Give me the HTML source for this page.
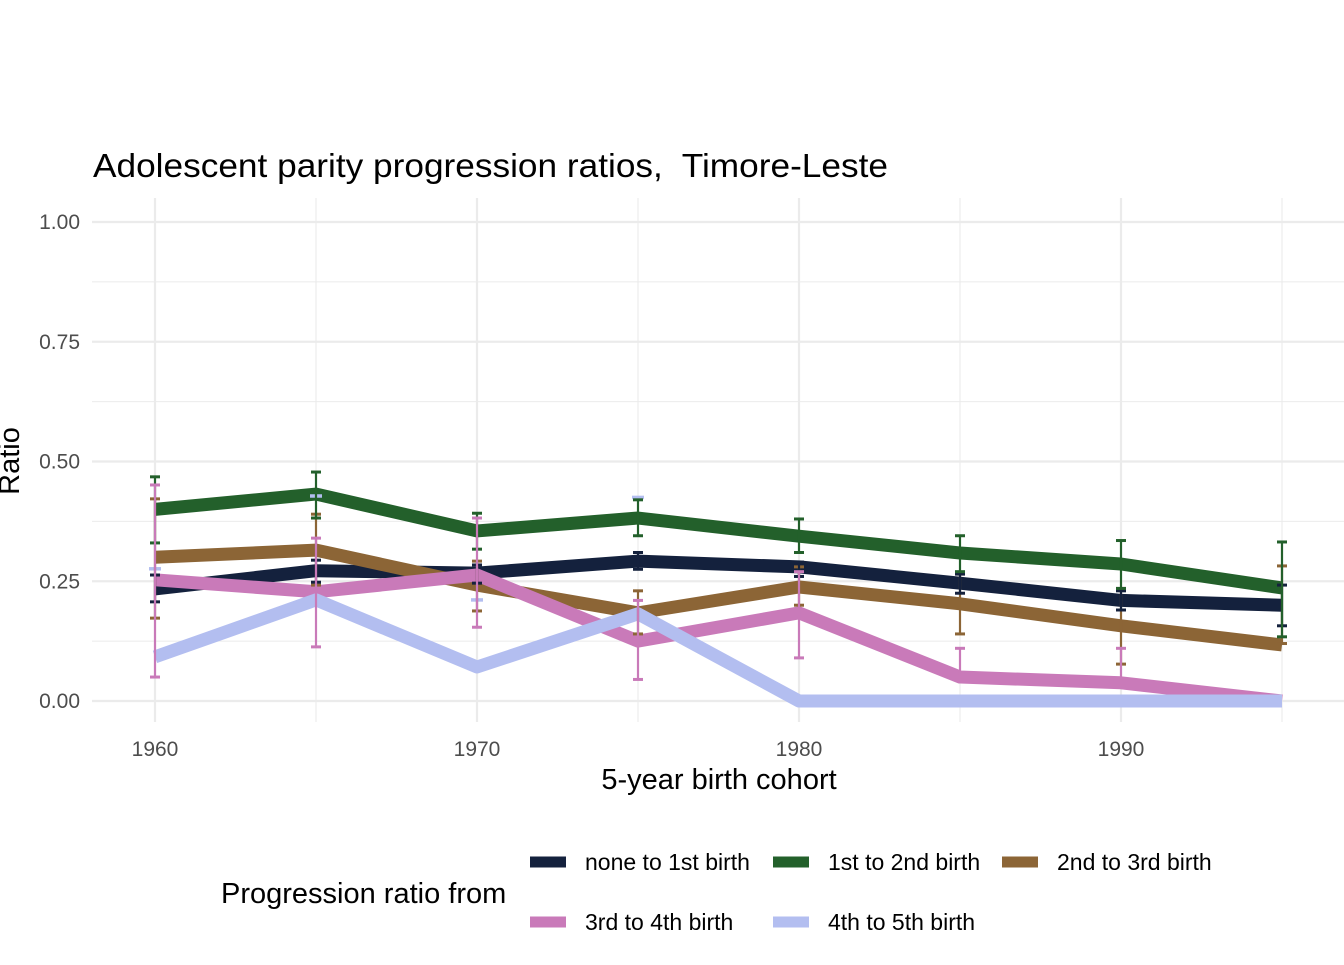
<!DOCTYPE html>
<html><head><meta charset="utf-8"><style>
body{margin:0;background:#fff;font-family:"Liberation Sans",Arial,sans-serif}
</style></head><body>
<svg id="chart" width="1344" height="960" xmlns="http://www.w3.org/2000/svg" font-family="Liberation Sans, Arial, sans-serif">
<text x="93" y="177" font-size="33" textLength="795" lengthAdjust="spacingAndGlyphs" fill="#000">Adolescent parity progression ratios,&#160; Timore-Leste</text>
<g id="grid"></g>
<g id="yticks"></g>
<g id="xticks"></g>
<g id="errsBack"></g>
<g id="series"></g>
<g id="errs"></g>
<text x="719" y="789" font-size="29" text-anchor="middle">5-year birth cohort</text>
<text transform="translate(19,461) rotate(-90)" font-size="29" text-anchor="middle">Ratio</text>
<text x="221" y="903" font-size="29">Progression ratio from</text>
<g id="legend"></g>
</svg>
<script>
const years=[1960,1965,1970,1975,1980,1985,1990,1995];
const seriesNames=["none to 1st birth","1st to 2nd birth","2nd to 3rd birth","3rd to 4th birth","4th to 5th birth"];
const colors=["#14213d","#23602b","#8c6536","#c97ab9","#b3bef0"];
const none1=[0.234,0.272,0.267,0.292,0.28,0.246,0.21,0.2];
const first2=[0.40,0.432,0.355,0.382,0.344,0.309,0.286,0.236];
const second3=[0.30,0.315,0.242,0.184,0.238,0.203,0.157,0.117];
const third4=[0.253,0.228,0.263,0.125,0.184,0.05,0.038,0];
const fourth5=[0.092,0.211,0.071,0.182,0,0,0,0];
const none1Lo=[0.207,0.248,0.246,0.275,0.26,0.225,0.19,0.157];
const none1Hi=[0.263,0.294,0.284,0.31,0.29,0.265,0.23,0.242];
const first2Lo=[0.33,0.382,0.317,0.345,0.31,0.27,0.235,0.134];
const first2Hi=[0.468,0.478,0.392,0.42,0.38,0.345,0.335,0.332];
const second3Lo=[0.173,0.242,0.188,0.14,0.2,0.14,0.077,0.12];
const second3Hi=[0.422,0.39,0.292,0.23,0.28,0.265,0.235,0.282];
const third4Lo=[0.05,0.113,0.154,0.045,0.09,0.05,0.038,0];
const third4Hi=[0.451,0.34,0.382,0.21,0.27,0.11,0.11,0];
const fourth5Hi=[0.276,0.428,0.211,0.425,0,0,0,0];
const yTicks=[0,0.25,0.5,0.75,1];
const yTickLabels=["0.00","0.25","0.50","0.75","1.00"];
const xTicks=[1960,1970,1980,1990];
const vals=[none1,first2,second3,third4,fourth5];
const los=[none1Lo,first2Lo,second3Lo,third4Lo];
const his=[none1Hi,first2Hi,second3Hi,third4Hi];
const X=v=>155+(v-1960)*(1121-155)/30;
const Y=v=>701-v*479;
const NS="http://www.w3.org/2000/svg";
function mk(t,a,p){const e=document.createElementNS(NS,t);for(const k in a)e.setAttribute(k,a[k]);p.appendChild(e);return e;}
const grid=document.getElementById('grid');
for(let v=0;v<=1.01;v+=0.125){const maj=Math.abs(v*4-Math.round(v*4))<1e-6;
 const l=mk('line',{x1:92,x2:1344,y1:Y(v),y2:Y(v),stroke:'#ebebeb','stroke-width':maj?2.2:1.1},grid);
 }
for(let yr=1960;yr<=1995;yr+=5){const maj=yr%10===0;
 const l=mk('line',{x1:X(yr),x2:X(yr),y1:198,y2:722,stroke:'#ebebeb','stroke-width':maj?2.2:1.1},grid);
 }
const yt=document.getElementById('yticks');
yTicks.forEach((v,i)=>{const t=mk('text',{x:80,y:Y(v)+7,'font-size':21,fill:'#4d4d4d','text-anchor':'end'},yt);t.textContent=yTickLabels[i];
 });
const xt=document.getElementById('xticks');
xTicks.forEach(v=>{const t=mk('text',{x:X(v),y:756,'font-size':21,fill:'#4d4d4d','text-anchor':'middle'},xt);t.textContent=v;
 });
const sg=document.getElementById('series'),eg=document.getElementById('errs');
vals.forEach((arr,s)=>{const p=mk('polyline',{points:arr.map((v,i)=>X(years[i])+','+Y(v)).join(' '),fill:'none',stroke:colors[s],'stroke-width':13,'stroke-linejoin':'round','stroke-linecap':'butt'},sg);
 });
years.forEach((yr,i)=>{if(fourth5Hi[i]<=0)return;const x=X(yr),b=Y(fourth5Hi[i]);
 const c=mk('line',{x1:x-6,x2:x+6,y1:b,y2:b,stroke:colors[4],'stroke-width':3.5},eg);
 });
[2,0,1,3].forEach(s=>{years.forEach((yr,i)=>{const g=mk('g',{stroke:colors[s],'stroke-width':2.2},eg);
 
 const x=X(yr),a=Y(los[s][i]),b=Y(his[s][i]);if(a===b)return;
 mk('line',{x1:x,x2:x,y1:a,y2:b},g);mk('line',{x1:x-5,x2:x+5,y1:a,y2:a,'stroke-width':3},g);mk('line',{x1:x-5,x2:x+5,y1:b,y2:b,'stroke-width':3},g);});});
const lg=document.getElementById('legend');
const pos=[[530,862],[773,862],[1002,862],[530,922],[773,922]];
seriesNames.forEach((n,s)=>{const g=mk('g',{},lg);
 const [x,y]=pos[s];mk('line',{x1:x,x2:x+36,y1:y,y2:y,stroke:colors[s],'stroke-width':11},g);
 const t=mk('text',{x:x+55,y:y+8,'font-size':23},g);t.textContent=n;});
</script>
</body></html>
